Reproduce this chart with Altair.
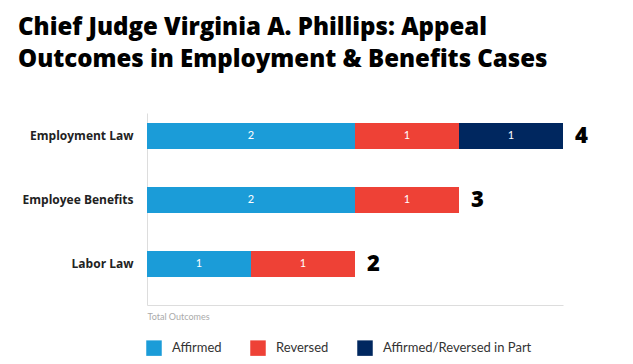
import altair as alt
import pandas as pd

categories = ["Employment Law", "Employee Benefits", "Labor Law"]
outcomes = ["Affirmed", "Reversed", "Affirmed/Reversed in Part"]
affirmed = [2, 2, 1]
reversed_ = [1, 1, 1]
partial = [1, 0, 0]
colors = ["#1b9cd8", "#ee4136", "#00275f"]

rows = []
for i, c in enumerate(categories):
    start = 0
    for o, v in zip(outcomes, [affirmed[i], reversed_[i], partial[i]]):
        if v > 0:
            rows.append({"category": c, "outcome": o, "value": v,
                         "start": start, "end": start + v, "mid": start + v / 2,
                         "order": outcomes.index(o)})
            start += v
seg = pd.DataFrame(rows)
tot = pd.DataFrame({"category": categories,
                    "total": [a + r + p for a, r, p in zip(affirmed, reversed_, partial)]})

FONT = "Lato"
HEAVY = "Open Sans"

yscale = alt.Scale(domain=categories, paddingInner=0.594, paddingOuter=0.297, align=0.263)
xscale = alt.Scale(domain=[0, 4], nice=False)

bars = alt.Chart(seg).mark_bar().encode(
    y=alt.Y("category:N", scale=yscale, sort=categories,
            axis=alt.Axis(title=None, ticks=False, domain=True, domainColor="#dddddd",
                          labelFont=HEAVY, labelFontWeight="bold", labelFontSize=12,
                          labelColor="#222222", labelPadding=14, grid=False)),
    x=alt.X("start:Q", scale=xscale,
            axis=alt.Axis(title="Total Outcomes", labels=False, ticks=False, grid=False,
                          domainColor="#dddddd", titleFont=FONT, titleFontWeight="normal",
                          titleFontSize=9, titleColor="#aaaaaa", titleAnchor="start",
                          titleAlign="left", titleX=0, titleY=11, titleBaseline="middle")),
    x2="end:Q",
    color=alt.Color("outcome:N", scale=alt.Scale(domain=outcomes, range=colors), sort=outcomes,
                    legend=alt.Legend(title=None, orient="none", direction="horizontal",
                                      legendX=-1, legendY=227, symbolType="square",
                                      symbolSize=240, symbolStrokeWidth=0, symbolOpacity=1,
                                      labelFont=FONT, labelFontSize=13, labelColor="#333333",
                                      labelOffset=10, columnPadding=28)),
)

inner = alt.Chart(seg).mark_text(color="white", font=FONT, fontSize=11).encode(
    y=alt.Y("category:N", scale=yscale, sort=categories),
    x=alt.X("mid:Q", scale=xscale),
    text="value:Q",
)

totals = alt.Chart(tot).mark_text(align="left", dx=12, font=HEAVY, fontWeight=800,
                                  fontSize=22, color="black").encode(
    y=alt.Y("category:N", scale=yscale, sort=categories),
    x=alt.X("total:Q", scale=xscale),
    text="total:Q",
)

chart = alt.layer(bars, inner, totals).properties(
    width=416, height=192,
    background="white",
    title=alt.TitleParams(
        text=["Chief Judge Virginia A. Phillips: Appeal",
              "Outcomes in Employment & Benefits Cases"],
        anchor="start", frame="group", font=HEAVY, fontSize=24, fontWeight=800, color="black",
        lineHeight=32, dx=-129, offset=41),
    autosize=alt.AutoSizeParams(type="none"),
    padding={"left": 139, "top": 105, "right": 62, "bottom": 51},
).configure_view(stroke=None, strokeWidth=0)

chart.save("out.html", embed_options={"renderer": "svg", "actions": False})
